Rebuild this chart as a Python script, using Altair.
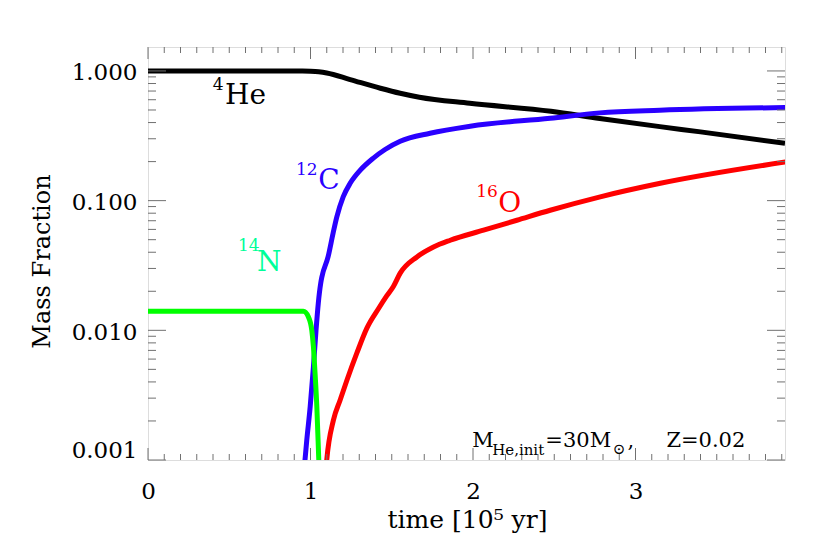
import altair as alt
import pandas as pd
import numpy as np

# ---- data ----
he_t = [0, 0.95, 1.0, 1.05, 1.10, 1.244, 1.43, 1.552, 1.67, 1.98, 2.48, 2.78, 3.15, 3.40, 3.92]
he_v = [1.0, 1.0, 0.995, 0.985, 0.965, 0.858, 0.736, 0.673, 0.627, 0.563, 0.489, 0.43, 0.372, 0.339, 0.277]

c_t = [0.955, 0.977, 0.998, 1.018, 1.034, 1.048, 1.063, 1.070, 1.108, 1.139, 1.162, 1.201, 1.244,
       1.305, 1.385, 1.459, 1.552, 1.736, 1.983, 2.475, 2.78, 3.15, 3.926]
c_v = [0.0007, 0.00142, 0.00257, 0.00522, 0.0100, 0.0162, 0.0231, 0.0258, 0.0368, 0.0561, 0.0749,
       0.1068, 0.136, 0.171, 0.212, 0.248, 0.287, 0.331, 0.375, 0.432, 0.475, 0.498, 0.522]

n_t = [0, 0.956, 0.987, 1.008, 1.018, 1.028, 1.039, 1.045, 1.051, 1.056]
n_v = [0.014, 0.014, 0.0127, 0.0100, 0.00745, 0.00467, 0.00257, 0.00161, 0.001, 0.0006]

o_t = [1.09, 1.100, 1.141, 1.182, 1.224, 1.285, 1.347, 1.42, 1.47, 1.510, 1.552, 1.655, 1.757,
       1.860, 2.065, 2.270, 2.475, 2.783, 3.153, 3.927]
o_v = [0.0007, 0.001, 0.00203, 0.00289, 0.00412, 0.00666, 0.0104, 0.0148, 0.0185, 0.0218, 0.0276,
       0.0368, 0.0439, 0.0495, 0.0592, 0.0706, 0.0843, 0.107, 0.136, 0.199]

series_names = ["He4", "C12", "O16", "N14"]
series_colors = ["#000000", "#2a00ff", "#ff0000", "#00ff00"]
label_colors = ["#000000", "#2a00ff", "#ff0000", "#00ff99"]

x_ticks = [0, 1, 2, 3]
y_ticks = [0.001, 0.01, 0.1, 1.0]

# isotope labels (mass number superscript + element), in data coordinates
lab_sup = ["4", "12", "16", "14"]
lab_sup_t = [0.398, 0.911, 2.020, 0.554]
lab_sup_v = [0.710, 0.157, 0.1068, 0.0407]
lab_el = ["He", "C", "O", "N"]
lab_el_t = [0.474, 1.047, 2.155, 0.671]
lab_el_v = [0.561, 0.1224, 0.0814, 0.0286]

# annotation pieces
ann_text = ["M", "He,init", "=30M", "\u2299", ",", "Z=0.02"]
ann_t = [1.995, 2.118, 2.445, 2.86, 2.95, 3.19]
ann_v = [0.00126, 0.00109, 0.00126, 0.00112, 0.00126, 0.00126]
ann_big = [True, False, True, False, True, True]

W, H = 637, 413
XDOM = [0, 3.92]
YDOM = [0.001, 1.53]
FONT = "DejaVu Serif"
GRAY = "#707070"

xs = alt.Scale(domain=XDOM, nice=False, zero=False)
ys = alt.Scale(type="log", domain=YDOM, nice=False)

rows = []
for name, col, ts, vs in [("He4", series_colors[0], he_t, he_v), ("C12", series_colors[1], c_t, c_v),
                          ("O16", series_colors[2], o_t, o_v), ("N14", series_colors[3], n_t, n_v)]:
    for i, (t, v) in enumerate(zip(ts, vs)):
        rows.append({"series": name, "col": col, "t": t, "v": v, "i": i})
df = pd.DataFrame(rows)

lines = alt.Chart(df).mark_line(strokeWidth=5, clip=True, interpolate="monotone").encode(
    x=alt.X("t:Q", scale=xs,
            axis=alt.Axis(values=x_ticks, format="d", ticks=False, tickSize=0, domain=False, grid=False,
                          labelFont=FONT, labelFontSize=23, labelColor="black", labelFlush=False,
                          labelBaseline="alphabetic", labelPadding=38,
                          title="time [10\u2075 yr]", titleFont=FONT, titleFontSize=25,
                          titleFontWeight="normal", titleColor="black",
                          titleX=319, titleY=67, titleBaseline="alphabetic", titleAlign="center")),
    y=alt.Y("v:Q", scale=ys,
            axis=alt.Axis(values=y_ticks, format=".3f", ticks=False, tickSize=0, domain=False, grid=False,
                          labelFont=FONT, labelFontSize=23, labelColor="black", labelFlush=True,
                          labelPadding=11, labelOffset=2,
                          title="Mass Fraction", titleFont=FONT, titleFontSize=24,
                          titleFontWeight="normal", titleColor="black",
                          titleX=-106, titleY=214, titleAngle=270, titleAlign="center",
                          titleBaseline="middle")),
    color=alt.Color("col:N", scale=None),
    detail="series:N",
    order="i:Q",
)

# ticks (inward, all four sides)
xt_all = np.round(np.arange(0, 3.95, 0.1), 1)
xtick_df = pd.DataFrame({"t": xt_all, "major": [abs(v - round(v)) < 1e-9 for v in xt_all]})
xmin = xtick_df[~xtick_df.major]
xmaj = xtick_df[xtick_df.major]

ytv = []
for d in [-3, -2, -1, 0]:
    for k in range(1, 10):
        val = k * 10.0 ** d
        if val <= YDOM[1] + 1e-12:
            ytv.append((val, k == 1))
ytick_df = pd.DataFrame({"v": [a for a, b in ytv], "major": [b for a, b in ytv]})
ymin = ytick_df[~ytick_df.major]
ymaj = ytick_df[ytick_df.major]

def xrule(d, y0, y1):
    return alt.Chart(d).mark_rule(color=GRAY, strokeWidth=1).encode(
        x=alt.X("t:Q", scale=xs), y=alt.value(y0), y2=alt.value(y1))

def yrule(d, x0, x1):
    return alt.Chart(d).mark_rule(color=GRAY, strokeWidth=1).encode(
        y=alt.Y("v:Q", scale=ys), x=alt.value(x0), x2=alt.value(x1))

ticks = [
    xrule(xmin, H, H - 6), xrule(xmaj, H, H - 12),
    xrule(xmin, 0, 6), xrule(xmaj, 0, 12),
    yrule(ymin, 0, 8), yrule(ymaj, 0, 18),
    yrule(ymin, W, W - 8), yrule(ymaj, W, W - 18),
]

sup_df = pd.DataFrame({"t": lab_sup_t, "v": lab_sup_v, "txt": lab_sup, "col": label_colors})
el_df = pd.DataFrame({"t": lab_el_t, "v": lab_el_v, "txt": lab_el, "col": label_colors})

sup = alt.Chart(sup_df).mark_text(font=FONT, fontSize=17, align="left", baseline="alphabetic").encode(
    x=alt.X("t:Q", scale=xs), y=alt.Y("v:Q", scale=ys), text="txt:N",
    color=alt.Color("col:N", scale=None))
el = alt.Chart(el_df).mark_text(font=FONT, fontSize=28, align="left", baseline="alphabetic").encode(
    x=alt.X("t:Q", scale=xs), y=alt.Y("v:Q", scale=ys), text="txt:N",
    color=alt.Color("col:N", scale=None))

ann_df = pd.DataFrame({"t": ann_t, "v": ann_v, "txt": ann_text, "big": ann_big})
ann_big_chart = alt.Chart(ann_df[ann_df.big]).mark_text(
    font=FONT, fontSize=21, align="left", baseline="alphabetic", color="black").encode(
    x=alt.X("t:Q", scale=xs), y=alt.Y("v:Q", scale=ys), text="txt:N")
ann_small_chart = alt.Chart(ann_df[~ann_df.big]).mark_text(
    font=FONT, fontSize=15, align="left", baseline="alphabetic", color="black").encode(
    x=alt.X("t:Q", scale=xs), y=alt.Y("v:Q", scale=ys), text="txt:N")

chart = alt.layer(lines, *ticks, sup, el, ann_big_chart, ann_small_chart).properties(
    width=W, height=H,
    autosize=alt.AutoSizeParams(type="none"),
    padding={"left": 140, "top": 39, "right": 30, "bottom": 80},
).configure_view(stroke=GRAY, strokeWidth=1).configure(background="white")

chart.save("out.html", embed_options={"renderer": "svg", "actions": False})
